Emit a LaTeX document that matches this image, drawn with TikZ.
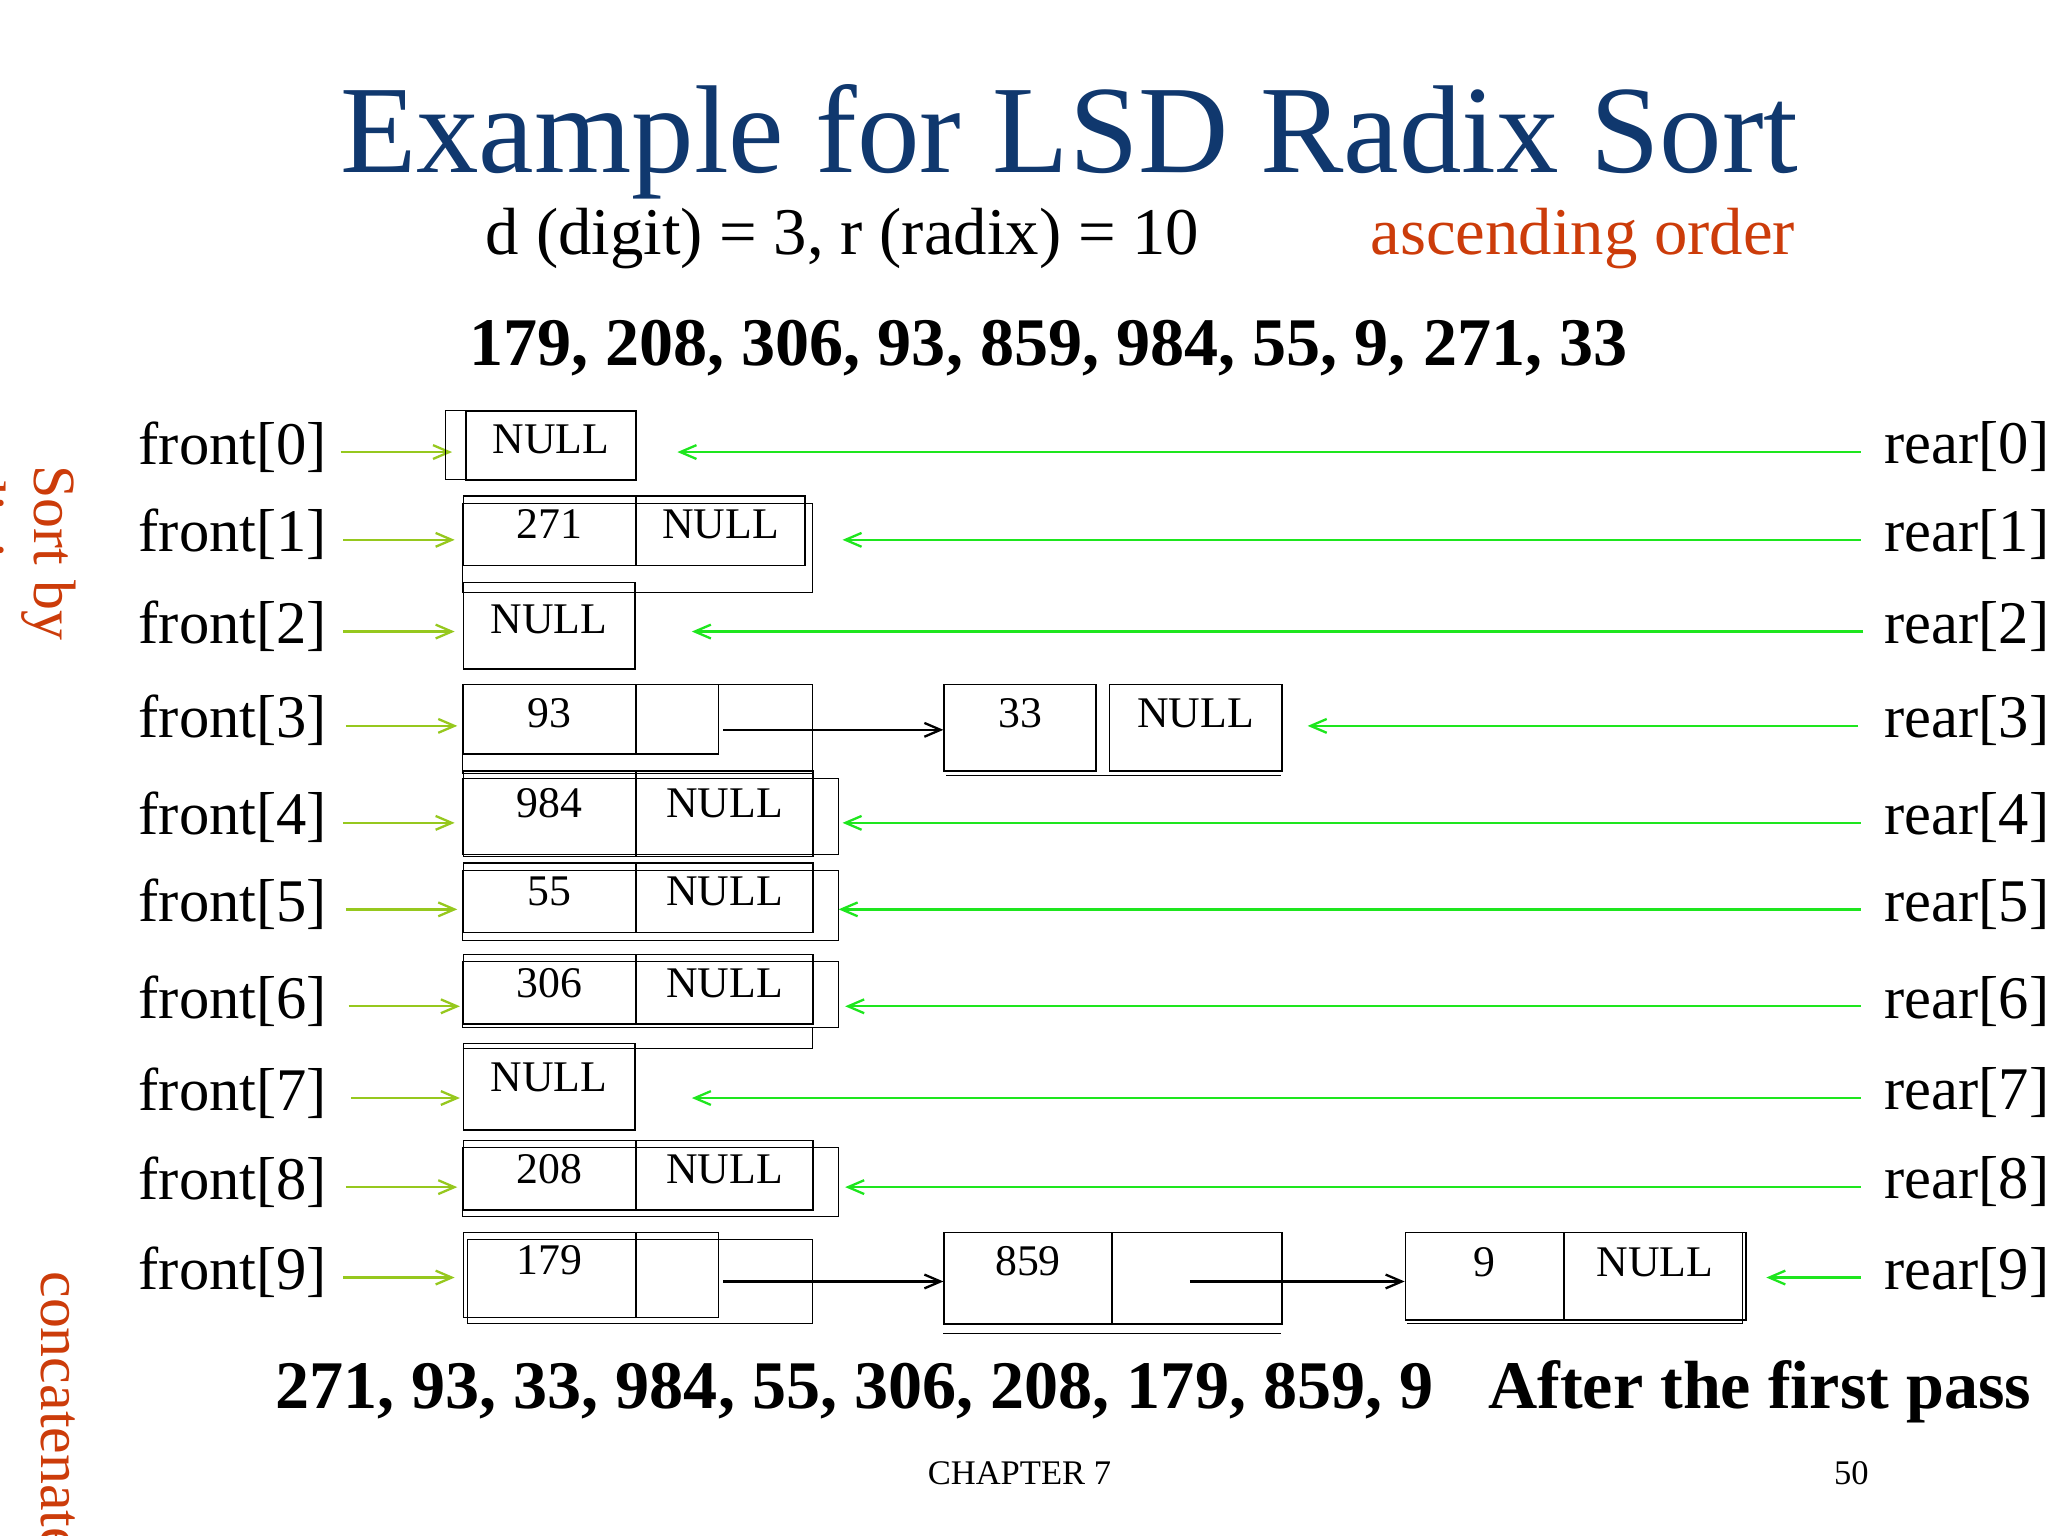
\documentclass[tikz,border=0pt]{standalone}
\usepackage{fontspec}
\setmainfont{Liberation Serif}
\usetikzlibrary{arrows.meta}
\definecolor{titleblue}{RGB}{16,56,110}
\definecolor{orng}{RGB}{204,60,10}
\definecolor{ygreen}{RGB}{150,200,30}
\definecolor{bgreen}{RGB}{30,230,30}
\begin{document}
\begin{tikzpicture}[x=0.02cm,y=-0.02cm,
  cell/.style={draw,line width=0.6pt,inner sep=0pt,text height=13pt,text depth=6pt,minimum height=1.06cm,font=\fontsize{19}{21}\selectfont},
  lab/.style={font=\fontsize{26.3}{30}\selectfont,inner sep=0pt},
  farr/.style={ygreen,line width=1pt,-{Straight Barb[length=7pt,width=6pt]}},
  rarr/.style={bgreen,line width=1pt,-{Straight Barb[length=7pt,width=6pt]}},
  parr/.style={black,line width=1pt,-{Straight Barb[length=7pt,width=6pt]}}]
\useasboundingbox (0,0) rectangle (1563,1172);
\node[titleblue,font=\fontsize{54.3}{60}\selectfont] (title) at (816,108) {Example for LSD Radix Sort};
\node[font=\fontsize{29}{34}\selectfont] (sub) at (643,182) {d (digit) = 3, r (radix) = 10};
\node[orng,font=\fontsize{29}{34}\selectfont] (asc) at (1208,182) {ascending order};
\node[font=\bfseries\fontsize{29.6}{34}\selectfont] (input) at (800,266) {179, 208, 306, 93, 859, 984, 55, 9, 271, 33};
\node[font=\bfseries\fontsize{29.6}{34}\selectfont] (out) at (652,1062) {271, 93, 33, 984, 55, 306, 208, 179, 859, 9};
\node[font=\bfseries\fontsize{29.6}{34}\selectfont] (pass) at (1343,1062) {After the first pass};
\node[font=\fontsize{15}{17}\selectfont] (chap) at (778,1124) {CHAPTER 7};
\node[font=\fontsize{15}{17}\selectfont] (pg) at (1413,1124) {50};
\node[orng,rotate=-90,anchor=north west,font=\fontsize{26}{30}\selectfont,align=left,inner sep=0pt] (side1) at (58,355) {Sort by\\digit};
\node[orng,rotate=-90,anchor=north west,font=\fontsize{26}{30}\selectfont,inner sep=0pt] (side2) at (58,970) {concatenate};
% front / rear labels
\foreach \i/\y/\fs/\fe/\rs/\re in {0/345/260/345/1420/517,1/412/262/347/1420/643,2/482/262/347/1422/528,3/554/264/349/1418/998,4/628/262/347/1420/643,5/694/264/349/1420/640,6/768/266/351/1420/645,7/838/268/351/1420/528,8/906/264/349/1420/645,9/975/262/347/1420/1348}{
  \node[lab,anchor=east] (f\i) at (250,\y-4) {front[\i]};
  \node[lab,anchor=west] (r\i) at (1438,\y-4) {rear[\i]};
  \coordinate (fs\i) at (\fs,\y); \coordinate (fe\i) at (\fe,\y);
  \coordinate (rs\i) at (\rs,\y); \coordinate (re\i) at (\re,\y);
  \draw[farr] (fs\i) -- (fe\i);
  \draw[rarr] (rs\i) -- (re\i);
}
% row 0
\draw (340,313) rectangle (485,366);
\node[cell,minimum width=2.6cm,anchor=north west] (c0) at (355,313) {NULL};
% row 1
\draw (353,384) rectangle (620,452);
\node[cell,minimum width=2.64cm,anchor=north west] (c1a) at (353,378) {271};
\node[cell,minimum width=2.58cm,anchor=north west] (c1b) at (485,378) {NULL};
% row 2
\node[cell,minimum width=2.62cm,minimum height=1.32cm,anchor=north west] (c2) at (353,444) {NULL};
% row 3
\draw (353,522) rectangle (620,590);
\node[cell,minimum width=2.64cm,anchor=north west] (c3a) at (353,522) {93};
\node[cell,minimum width=1.26cm,anchor=north west] (c3b) at (485,522) {};
\node[cell,minimum width=2.32cm,minimum height=1.32cm,anchor=north west,text depth=13pt] (c3c) at (720,522) {33};
\node[cell,minimum width=2.64cm,minimum height=1.32cm,anchor=north west,text depth=13pt] (c3d) at (846,522) {NULL};
\draw (722,592) -- (978,592);
\draw[parr] (552,557) -- (c3c.west|-0,557);
% row 4
\draw (353,594) rectangle (640,652);
\node[cell,minimum width=2.64cm,minimum height=1.3cm,anchor=north west,text depth=10pt] (c4a) at (353,588) {984};
\node[cell,minimum width=2.7cm,minimum height=1.3cm,anchor=north west,text depth=10pt] (c4b) at (485,588) {NULL};
% row 5
\draw (353,664) rectangle (640,718);
\node[cell,minimum width=2.64cm,anchor=north west] (c5a) at (353,658) {55};
\node[cell,minimum width=2.7cm,anchor=north west] (c5b) at (485,658) {NULL};
% row 6
\draw (353,734) rectangle (640,784);
\draw (353,800) -- (620,800) -- (620,784);
\node[cell,minimum width=2.64cm,anchor=north west] (c6a) at (353,728) {306};
\node[cell,minimum width=2.7cm,anchor=north west] (c6b) at (485,728) {NULL};
% row 7
\node[cell,minimum width=2.62cm,minimum height=1.32cm,anchor=north west,text depth=9pt] (c7) at (353,796) {NULL};
% row 8
\draw (353,876) rectangle (640,928);
\node[cell,minimum width=2.64cm,anchor=north west] (c8a) at (353,870) {208};
\node[cell,minimum width=2.7cm,anchor=north west] (c8b) at (485,870) {NULL};
% row 9
\draw (357,946) rectangle (620,1010);
\node[cell,minimum width=2.64cm,minimum height=1.3cm,anchor=north west,text depth=13pt] (c9a) at (353,940) {179};
\node[cell,minimum width=1.26cm,minimum height=1.3cm,anchor=north west] (c9b) at (485,940) {};
\node[cell,minimum width=2.56cm,minimum height=1.4cm,anchor=north west,text depth=15pt] (c9c) at (720,940) {859};
\node[cell,minimum width=2.6cm,minimum height=1.4cm,anchor=north west] (c9d) at (848,940) {};
\draw (720,1018) -- (978,1018);
\node[cell,minimum width=2.42cm,minimum height=1.34cm,anchor=north west,text depth=13pt] (c9e) at (1072,940) {9};
\node[cell,minimum width=2.78cm,minimum height=1.34cm,anchor=north west,text depth=13pt] (c9f) at (1193,940) {NULL};
\draw (1074,1010) -- (1330,1010) -- (1330,940);
\draw[parr] (552,978) -- (c9c.west|-0,978);
\draw[parr] (908,978) -- (c9e.west|-0,978);
\end{tikzpicture}
\end{document}
